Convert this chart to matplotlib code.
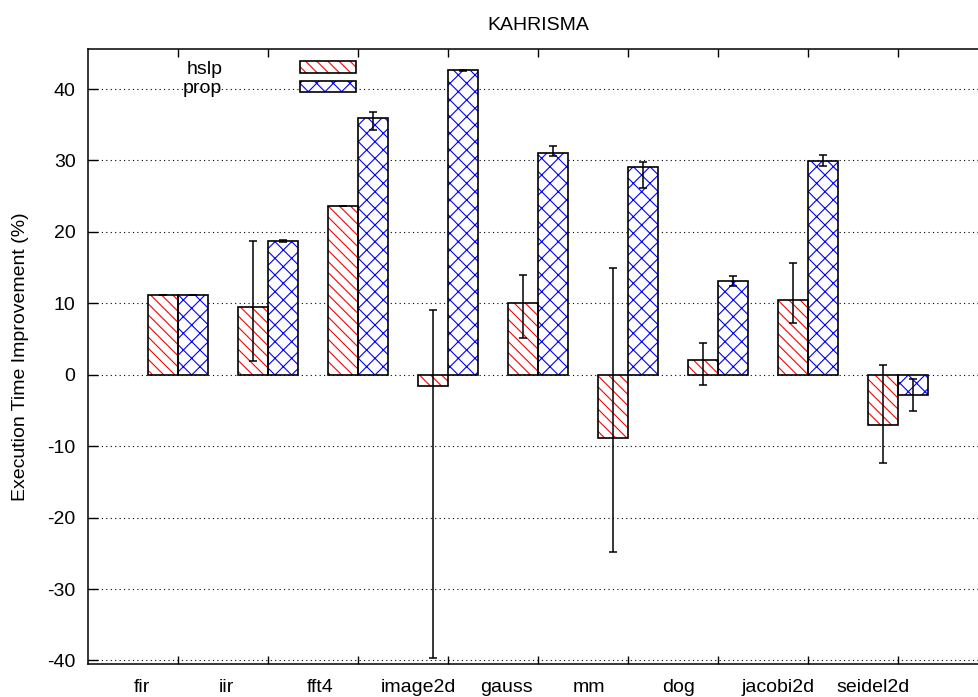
import matplotlib
matplotlib.use("Agg")
import matplotlib.pyplot as plt
import numpy as np
from matplotlib.patches import Patch
from matplotlib.transforms import blended_transform_factory, ScaledTranslation

plt.rcParams["font.family"] = ["Liberation Sans", "DejaVu Sans"]
plt.rcParams["hatch.linewidth"] = 0.8
plt.rcParams["axes.unicode_minus"] = False

# data
benchmarks = ["fir", "iir", "fft4", "image2d", "gauss", "mm", "dog", "jacobi2d", "seidel2d"]

hslp = np.array([11.2, 9.5, 23.6, -1.6, 10.1, -8.9, 2.1, 10.4, -7.1])
hslp_hi = np.array([11.2, 18.7, 23.6, 9.1, 14.0, 15.0, 4.4, 15.6, 1.3])
hslp_lo = np.array([11.2, 1.9, 23.6, -39.7, 5.1, -24.8, -1.4, 7.2, -12.3])

prop = np.array([11.2, 18.7, 35.9, 42.6, 31.0, 29.1, 13.1, 29.9, -2.9])
prop_hi = np.array([11.2, 18.8, 36.8, 42.7, 32.0, 29.8, 13.8, 30.7, -0.6])
prop_lo = np.array([11.2, 18.6, 34.3, 42.5, 30.6, 26.2, 12.4, 29.2, -5.1])

# gnuplot put the xtic labels left of the tics, shift in pixels
label_shift = [-36, -42, -38, -30, -32, -39, -39, -30, -25]

red_hatch = "\\\\\\"
blue_hatch = "xx"

x = np.arange(len(benchmarks))
w = 1 / 3

fig = plt.figure(figsize=(9.79, 6.97), dpi=100)
ax = fig.add_axes([88 / 979, 1 - 664 / 697, 900 / 979, 615 / 697])

# hatched fills, then black outlines on top
ax.bar(x - w, hslp, w, align="edge", facecolor="white", edgecolor="red", hatch=red_hatch, lw=0, zorder=2)
ax.bar(x, prop, w, align="edge", facecolor="white", edgecolor="blue", hatch=blue_hatch, lw=0, zorder=2)
ax.bar(x - w, hslp, w, align="edge", fill=False, edgecolor="black", lw=1.2, zorder=3)
ax.bar(x, prop, w, align="edge", fill=False, edgecolor="black", lw=1.2, zorder=3)

ax.errorbar(x - w / 2, hslp, yerr=[hslp - hslp_lo, hslp_hi - hslp], fmt="none",
            ecolor="black", elinewidth=1.1, capsize=3, capthick=1.1, zorder=4)
ax.errorbar(x + w / 2, prop, yerr=[prop - prop_lo, prop_hi - prop], fmt="none",
            ecolor="black", elinewidth=1.1, capsize=3, capthick=1.1, zorder=4)

ax.set_xlim(-1, 9)
ax.set_ylim(-40.5, 45.6)
ax.set_yticks(np.arange(-40, 41, 10))
ax.set_xticks(x)
ax.set_xticklabels([""] * len(x))
ax.yaxis.grid(True, linestyle=(0, (1, 3)), color="black", lw=0.8)
ax.set_axisbelow(True)

ax.tick_params(axis="x", direction="in", length=6, width=1, top=True)
ax.tick_params(axis="y", direction="in", length=7, width=1, right=True, labelsize=14, pad=9)
for s in ax.spines.values():
    s.set_linewidth(1.1)

trans = blended_transform_factory(ax.transData, ax.transAxes)
for i, (name, dx) in enumerate(zip(benchmarks, label_shift)):
    off = ScaledTranslation(dx / 100, -23 / 100, fig.dpi_scale_trans)
    ax.text(i, 0, name, transform=trans + off, ha="center", va="center", fontsize=14)

ax.set_ylabel("Execution Time Improvement (%)", fontsize=14)
ax.yaxis.set_label_coords(-0.066, 0.5)
ax.set_title("KAHRISMA", fontsize=14, pad=14)

h1 = (Patch(facecolor="white", edgecolor="red", hatch=red_hatch, lw=0),
      Patch(fill=False, edgecolor="black", lw=1.2))
h2 = (Patch(facecolor="white", edgecolor="blue", hatch=blue_hatch, lw=0),
      Patch(fill=False, edgecolor="black", lw=1.2))
ax.legend([h1, h2], ["hslp", "prop"], loc="upper left",
          bbox_to_anchor=(183 / 979, 1 - 61 / 697), bbox_transform=fig.transFigure,
          frameon=False, fontsize=14, markerfirst=False, borderpad=0, borderaxespad=0,
          handlelength=2.9, handleheight=0.52, handletextpad=4.0, labelspacing=0.12)

fig.savefig("out.png", dpi=100)
